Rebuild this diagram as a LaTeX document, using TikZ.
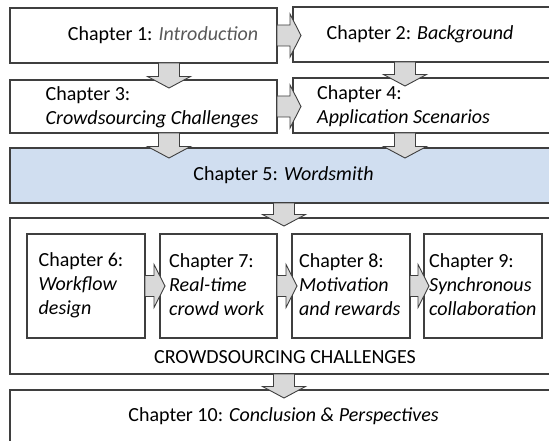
\documentclass[tikz,border=0pt]{standalone}
\usepackage{fontspec}
\setmainfont{Carlito}
\usetikzlibrary{calc,fit}
\definecolor{edge}{HTML}{3F3F3F}
\definecolor{arrowfill}{HTML}{D9D9D9}
\definecolor{wsblue}{HTML}{D0DEF0}
\definecolor{soft}{HTML}{595959}
% block arrow pointing down: #1 start on the source edge, #2 tip
\newcommand\blockdown[2]{%
  \draw[blockarrow] let \p1=(#1), \p2=(#2) in
    (\x1-10.5pt,\y1) -- (\x1-10.5pt,\y2+11.5pt) -- (\x1-21.5pt,\y2+11.5pt)
    -- (\x1,\y2) -- (\x1+21.5pt,\y2+11.5pt) -- (\x1+10.5pt,\y2+11.5pt)
    -- (\x1+10.5pt,\y1) -- cycle;}
% block arrow pointing right
\newcommand\blockright[2]{%
  \draw[blockarrow] let \p1=(#1), \p2=(#2) in
    (\x1,\y1+10.5pt) -- (\x2-11pt,\y1+10.5pt) -- (\x2-11pt,\y1+21.5pt)
    -- (\x2,\y1) -- (\x2-11pt,\y1-21.5pt) -- (\x2-11pt,\y1-10.5pt)
    -- (\x1,\y1-10.5pt) -- cycle;}
\begin{document}
\begin{tikzpicture}[x=1pt,y=-1pt,
  box/.style={draw=edge, line width=1.1pt, fill=white, inner sep=0pt, outer sep=0pt},
  blockarrow/.style={draw=edge, line width=0.9pt, fill=arrowfill, line join=miter},
  txt/.style={inner sep=0pt, font=\fontsize{20}{24}\selectfont, text=black},
  ltxt/.style={txt, align=left, anchor=west}]
\useasboundingbox (0,0) rectangle (549,441);
\clip (0,0) rectangle (549,441);

% chapter boxes
\node[box, fit={(10,8) (277,63)}] (b1) {};
\node[box, fit={(293,7) (560,62)}] (b2) {};
\node[box, fit={(10,80) (277,133)}] (b3) {};
\node[box, fit={(293,78) (560,133)}] (b4) {};
\node[box, fill=wsblue, fit={(10,148) (560,203)}] (b5) {};
\node[box, fit={(10,218) (560,374)}] (grp) {};
\node[box, fit={(27,234) (145,338)}] (c6) {};
\node[box, fit={(160,234) (277,338)}] (c7) {};
\node[box, fit={(292,234) (410,338)}] (c8) {};
\node[box, fit={(424,234) (542,338)}] (c9) {};
\node[box, fit={(10,390) (560,470)}] (b10) {};

% columns of the vertical arrows
\coordinate (xl) at (169,0);
\coordinate (xr) at (405,0);
\coordinate (xm) at (284,0);

% arrow tips
\coordinate (t13) at ($(b3.north -| xl)+(0,8)$);
\coordinate (t24) at ($(b4.north -| xr)+(0,8)$);
\coordinate (t35) at ($(b5.north -| xl)+(0,10)$);
\coordinate (t45) at ($(b5.north -| xr)+(0,10)$);
\coordinate (t5g) at ($(b5.south -| xm)+(0,23)$);
\coordinate (tg10) at ($(grp.south -| xm)+(0,24)$);
\coordinate (t12) at ($(b2.west |- b1.east)+(8,0)$);
\coordinate (t34) at ($(b4.west |- b3.east)+(8,0)$);
\coordinate (t67) at ($(c7.west |- c6.east)+(5,0)$);
\coordinate (t78) at ($(c8.west |- c7.east)+(5,0)$);
\coordinate (t89) at ($(c9.west |- c8.east)+(5,0)$);

% connectors
\blockright{b1.east}{t12}
\blockright{b3.east}{t34}
\blockdown{b1.south -| xl}{t13}
\blockdown{b2.south -| xr}{t24}
\blockdown{b3.south -| xl}{t35}
\blockdown{b4.south -| xr}{t45}
\blockdown{b5.south -| xm}{t5g}
\blockdown{grp.south -| xm}{tg10}
\blockright{c6.east}{t67}
\blockright{c7.east}{t78}
\blockright{c8.east}{t89}

% labels
\node[txt] (l1) at (163,35.5) {Chapter 1: \textcolor{soft}{\textit{Introduction}}};
\node[txt] (l2) at (420,34) {Chapter 2: \textit{Background}};
\node[ltxt] (l3) at (45.5,107) {Chapter 3:\\\textit{Crowdsourcing Challenges}};
\node[ltxt] (l4) at (317,106) {Chapter 4:\\\textit{Application Scenarios}};
\node[txt] (l5) at (283.5,175.5) {Chapter 5: \textit{Wordsmith}};
\node[ltxt] (l6) at (38.5,285) {Chapter 6:\\\textit{Workflow}\\\textit{design}};
\node[ltxt] (l7) at (169,285) {Chapter 7:\\\textit{Real-time}\\\textit{crowd work}};
\node[ltxt] (l8) at (299,285) {Chapter 8:\\\textit{Motivation}\\\textit{and rewards}};
\node[ltxt] (l9) at (429,285) {Chapter 9:\\\textit{Synchronous}\\\textit{collaboration}};
\node[txt] (lg) at (285,357) {CROWDSOURCING CHALLENGES};
\node[txt] (l10) at (283.5,416) {Chapter 10: \textit{Conclusion \& Perspectives}};
\end{tikzpicture}
\end{document}
